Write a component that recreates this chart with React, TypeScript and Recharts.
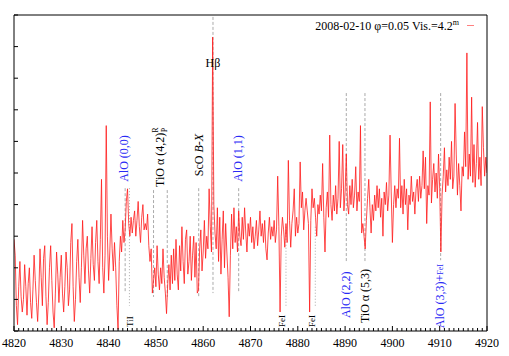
import React from 'react';
import { LineChart, Line, XAxis, YAxis, ReferenceLine, ReferenceDot, Legend } from 'recharts';

const WL_START = 4820;
const WL_STEP = 0.25;

// relative flux, sampled every 0.25 A from 4820 to 4920
const flux = [
  2.9, 2.4, 0.8, 0.2, 1.4, 2.2, 1.1, 0.6, 1.0, 2.1, 1.4, 0.5, 1.5, 2.0, 0.9, 0.4, 1.3, 2.4, 1.6, 0.9, // 4820
  0.3, 1.2, 2.6, 1.7, 0.8, 2.3, 2.7, 1.1, 0.2, 0.9, 2.0, 2.7, 1.6, 0.6, 0.1, 1.2, 2.5, 1.8, 0.9, 1.7, // 4825
  2.4, 1.2, 0.6, 1.4, 2.5, 2.0, 0.8, 1.3, 2.8, 3.4, 1.4, 0.3, 1.0, 2.2, 2.9, 1.7, 0.9, 2.0, 3.5, 2.4, // 4830
  1.5, 2.6, 3.0, 1.9, 1.2, 2.3, 3.3, 2.1, 1.6, 2.8, 3.5, 2.2, 1.5, 2.9, 4.8, 2.0, 1.2, 2.4, 6.5, 3.0, // 4835
  1.6, 2.5, 3.7, 2.6, 1.9, 2.8, 2.0, 0.8, 0.05, 2.2, 3.0, 2.5, 3.5, 2.8, 3.2, 4.1, 4.5, 3.4, 3.0, 3.6, // 4840
  3.1, 3.5, 3.8, 3.0, 3.5, 4.1, 3.3, 2.8, 3.6, 4.0, 3.2, 3.4, 3.2, 3.7, 2.7, 2.2, 2.6, 1.2, 1.6, 2.0, // 4845
  1.4, 2.7, 1.8, 1.3, 2.0, 1.5, 2.6, 1.7, 1.2, 0.55, 1.5, 2.1, 1.3, 2.4, 1.5, 2.6, 1.6, 2.9, 1.8, 1.3, // 4850
  2.7, 1.9, 3.3, 2.2, 1.5, 2.9, 3.2, 1.8, 2.2, 3.0, 1.6, 2.4, 3.0, 1.7, 2.8, 1.2, 1.3, 2.6, 3.2, 1.9, // 4855
  2.5, 3.5, 2.3, 3.0, 2.6, 4.5, 3.3, 2.5, 9.3, 4.0, 3.1, 2.6, 3.9, 2.2, 3.6, 1.8, 2.9, 3.8, 2.0, 3.4, // 4860
  2.5, 1.7, 0.45, 2.4, 3.7, 2.6, 3.9, 2.8, 3.3, 2.5, 3.8, 3.0, 2.7, 3.6, 2.9, 3.9, 3.1, 2.5, 3.4, 3.0, // 4865
  3.6, 2.8, 3.3, 2.6, 3.0, 3.5, 2.7, 3.2, 3.8, 3.0, 3.4, 2.8, 3.5, 2.6, 2.25, 3.1, 3.6, 2.9, 3.3, 3.0, // 4870
  3.5, 2.8, 3.2, 4.9, 3.3, 0.6, 3.0, 3.6, 3.2, 2.65, 3.4, 2.8, 5.4, 3.5, 2.65, 3.4, 3.8, 4.5, 3.0, 3.6, // 4875
  3.1, 3.4, 5.35, 3.9, 4.4, 3.2, 3.8, 4.2, 3.8, 3.4, 0.6, 3.5, 4.5, 3.9, 4.2, 3.6, 3.0, 4.0, 3.7, 4.3, // 4880
  3.8, 5.3, 3.6, 2.5, 3.9, 4.4, 3.6, 6.2, 4.0, 3.5, 4.3, 3.8, 4.6, 3.7, 4.2, 6.0, 3.9, 4.5, 5.9, 3.8, // 4885
  4.4, 5.6, 4.0, 3.7, 4.6, 4.0, 4.8, 3.9, 4.3, 5.2, 3.8, 4.4, 4.1, 6.5, 3.1, 3.4, 3.0, 2.6, 3.5, 4.2, // 4890
  4.8, 3.9, 3.1, 4.0, 3.5, 4.3, 3.8, 4.6, 3.9, 4.5, 3.6, 4.2, 3.0, 4.4, 4.0, 4.7, 3.8, 4.3, 6.2, 4.4, // 4895
  2.8, 4.0, 4.6, 3.9, 4.5, 4.2, 6.1, 3.9, 4.6, 3.7, 4.8, 4.0, 4.5, 3.2, 4.3, 4.0, 4.9, 4.1, 4.4, 3.7, // 4900
  4.5, 4.8, 4.1, 4.9, 4.2, 4.6, 5.7, 4.5, 5.5, 3.4, 4.6, 4.3, 7.25, 4.05, 4.8, 5.3, 4.4, 5.0, 4.2, 5.6, // 4905
  4.5, 2.5, 4.3, 4.9, 5.8, 4.4, 5.1, 4.6, 5.5, 4.8, 6.0, 4.5, 4.9, 7.2, 5.6, 4.3, 5.3, 4.6, 3.8, 5.2, // 4910
  4.9, 6.3, 5.2, 8.8, 4.8, 5.6, 4.9, 7.4, 4.7, 5.9, 4.55, 5.3, 6.6, 4.8, 5.5, 4.6, 7.1, 5.8, 4.9, 5.5, // 4915
  5.0,
];

const xTicks = [4820, 4830, 4840, 4850, 4860, 4870, 4880, 4890, 4900, 4910, 4920];
const xMinorTicks = Array.from({ length: 101 }, (_, i) => 4820 + i);
const yTicks = [0, 1, 2, 3, 4, 5, 6, 7, 8, 9, 10];

const data = flux.map((f, i) => ({ wl: WL_START + i * WL_STEP, flux: f }));

const SERIF = '"Liberation Serif", "DejaVu Serif", serif';
const RED = '#ff1a1a';
const BLUE = '#2a2af5';
const BLACK = '#000';
const MARK = '#aaaaaa';

// line identification marks (wavelength, vertical extent)
const marks = [
  { wl: 4843.5, from: 4.52, to: 1.2 },
  { wl: 4844.4, from: 4.52, to: 0.8, dotted: true },
  { wl: 4849.5, from: 4.46, to: 1.08 },
  { wl: 4852.4, from: 4.46, to: 1.08 },
  { wl: 4859.05, from: 4.52, to: 1.08 },
  { wl: 4862.07, from: 9.94, to: 1.2 },
  { wl: 4867.5, from: 4.52, to: 1.2 },
  { wl: 4877.5, from: 3.3, to: 0.8, dotted: true },
  { wl: 4883.7, from: 3.3, to: 0.8, dotted: true },
  { wl: 4890.25, from: 7.53, to: 2.18 },
  { wl: 4894.2, from: 7.53, to: 2.18 },
  { wl: 4910.2, from: 7.53, to: 2.24 },
];

type Part = { t: string; italic?: boolean; small?: boolean; sup?: boolean; sub?: boolean };

const labels: { wl: number; y: number; color: string; size: number; parts: Part[] }[] = [
  { wl: 4843.25, y: 4.72, color: BLUE, size: 12, parts: [{ t: 'AlO (0,0)' }] },
  { wl: 4844.45, y: 0.13, color: BLACK, size: 9, parts: [{ t: 'TiI' }] },
  { wl: 4850.9, y: 4.56, color: BLACK, size: 12, parts: [{ t: 'TiO α (4,2)' }, { t: 'R', sup: true }, { t: 'P', sub: true }] },
  { wl: 4859.1, y: 4.9, color: BLACK, size: 12, parts: [{ t: 'ScO ' }, { t: 'B-X', italic: true }] },
  { wl: 4867.35, y: 4.72, color: BLUE, size: 12, parts: [{ t: 'AlO (1,1)' }] },
  { wl: 4876.75, y: 0.13, color: BLACK, size: 9, parts: [{ t: 'FeI' }] },
  { wl: 4882.95, y: 0.13, color: BLACK, size: 9, parts: [{ t: 'FeI' }] },
  { wl: 4890.2, y: 0.41, color: BLUE, size: 12, parts: [{ t: 'AlO (2,2)' }] },
  { wl: 4894.2, y: 0.25, color: BLACK, size: 12, parts: [{ t: 'TiO α (5,3)' }] },
  { wl: 4910.06, y: 0.09, color: BLUE, size: 12, parts: [{ t: 'AlO (3,3)+' }, { t: 'FeI', small: true }] },
];

const BottomTick = ({ x, y, payload }: any) => {
  const major = xTicks.includes(payload.value);
  return (
    <g>
      <line x1={x} x2={x} y1={y} y2={y - (major ? 5 : 3)} stroke={BLACK} />
      {major && (
        <text x={x} y={y + 16} textAnchor="middle" fontSize={12} fontFamily={SERIF} fill={BLACK}>
          {payload.value}
        </text>
      )}
    </g>
  );
};

const TopTick = ({ x, y, payload }: any) => {
  const major = xTicks.includes(payload.value);
  return <line x1={x} x2={x} y1={y} y2={y + (major ? 5 : 3)} stroke={BLACK} />;
};

const LeftTick = ({ x, y }: any) => <line x1={x} x2={x + 4} y1={y} y2={y} stroke={BLACK} />;
const RightTick = ({ x, y }: any) => <line x1={x} x2={x - 5} y1={y} y2={y} stroke={BLACK} />;

const RotText = ({ cx, cy, ann }: any) => (
  <text
    x={cx}
    y={cy}
    transform={`rotate(-90 ${cx} ${cy})`}
    fill={ann.color}
    fontSize={ann.size}
    fontFamily={SERIF}
    dominantBaseline="central"
  >
    {ann.parts.map((p: Part, i: number) => (
      <tspan
        key={i}
        fontStyle={p.italic ? 'italic' : undefined}
        fontSize={p.small || p.sup || p.sub ? 8 : undefined}
        dy={p.sup ? -5 : p.sub ? 9 : undefined}
        dx={p.sub ? -5 : undefined}
      >
        {p.t}
      </tspan>
    ))}
  </text>
);

const LegendBox = () => (
  <div style={{ position: 'relative', height: 14, fontFamily: SERIF, fontSize: 12, lineHeight: '14px', color: BLACK }}>
    <span style={{ position: 'absolute', right: 50, top: 0, whiteSpace: 'nowrap' }}>
      2008-02-10 φ=0.05 Vis.=4.2
      <span style={{ fontSize: 8, position: 'relative', top: -5 }}>m</span>
    </span>
    <span style={{ position: 'absolute', left: 467, top: 6, width: 7, height: 1, background: '#ff8080' }} />
  </div>
);

export default function App() {
  return (
    <div style={{ position: 'absolute', left: 0, top: 0, background: '#fff' }}>
      <LineChart width={509} height={356} data={data} margin={{ top: 14, right: 21, bottom: 24, left: 13 }}>
        <XAxis
          dataKey="wl"
          type="number"
          domain={[4820, 4920]}
          ticks={xMinorTicks}
          interval={0}
          tick={BottomTick}
          tickSize={0}
          tickMargin={0}
          tickLine={false}
          height={1}
          axisLine={{ stroke: BLACK }}
          allowDataOverflow
        />
        <XAxis
          xAxisId="top"
          orientation="top"
          type="number"
          domain={[4820, 4920]}
          ticks={xMinorTicks}
          interval={0}
          tick={TopTick}
          tickSize={0}
          tickMargin={0}
          tickLine={false}
          height={1}
          axisLine={{ stroke: BLACK }}
        />
        <YAxis
          type="number"
          domain={[0, 10]}
          ticks={yTicks}
          interval={0}
          width={1}
          tick={LeftTick}
          tickSize={0}
          tickMargin={0}
          tickLine={false}
          axisLine={{ stroke: BLACK }}
          allowDataOverflow
        />
        <YAxis
          yAxisId="right"
          orientation="right"
          type="number"
          domain={[0, 10]}
          ticks={yTicks}
          interval={0}
          width={1}
          tick={RightTick}
          tickSize={0}
          tickMargin={0}
          tickLine={false}
          axisLine={{ stroke: BLACK }}
        />
        <Legend
          layout="horizontal"
          verticalAlign="middle"
          align="center"
          wrapperStyle={{ top: 19, left: 0, width: 509, height: 14 }}
          content={() => <LegendBox />}
        />
        {marks.map((m, i) => (
          <ReferenceLine
            key={'m' + i}
            segment={[{ x: m.wl, y: m.from }, { x: m.wl, y: m.to }]}
            stroke={MARK}
            strokeDasharray={m.dotted ? '1 2' : '3 2'}
          />
        ))}
        <Line
          type="linear"
          dataKey="flux"
          name="2008-02-10"
          stroke={RED}
          strokeWidth={0.8}
          dot={false}
          activeDot={false}
          isAnimationActive={false}
        />
        {labels.map((a, i) => (
          <ReferenceDot key={'l' + i} x={a.wl} y={a.y} r={1} shape={(p: any) => <RotText cx={p.cx} cy={p.cy} ann={a} />} />
        ))}
        <ReferenceDot
          x={4862.07}
          y={8.35}
          r={1}
          shape={(p: any) => (
            <text x={p.cx} y={p.cy} textAnchor="middle" fontSize={12} fontFamily={SERIF} fill={BLACK}>
              Hβ
            </text>
          )}
        />
      </LineChart>
    </div>
  );
}
